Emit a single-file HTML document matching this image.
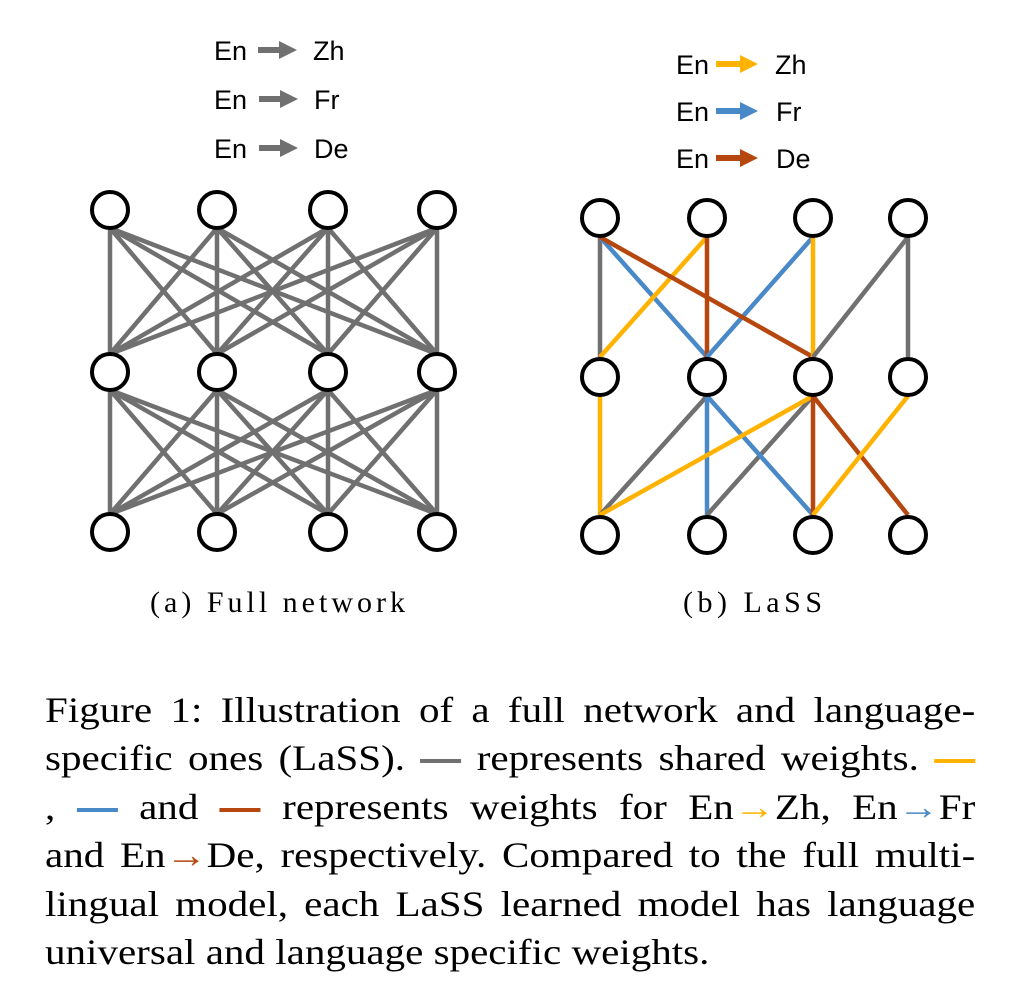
<!DOCTYPE html>
<html><head><meta charset="utf-8"><style>
body{margin:0;background:#fff;width:1018px;height:1002px;position:relative;overflow:hidden}
.cap{position:absolute;left:45px;width:816px;transform:scaleX(1.14);transform-origin:0 0;font-family:"Liberation Serif",serif;font-size:36px;line-height:40px;text-align:justify;text-align-last:justify;white-space:nowrap;color:#000}
.cap.last{text-align-last:left}
.d{display:inline-block;width:36px;height:4px;vertical-align:middle;margin-top:-2px}
.y{color:#FFB300}.b{color:#4A89C8}.r{color:#B5470F}
</style></head><body>
<svg width="1018" height="640" style="position:absolute;left:0;top:0" font-family="Liberation Sans, sans-serif">
<defs>
<marker id="ag" markerWidth="3" markerHeight="3" refX="1" refY="1.5" orient="auto" markerUnits="strokeWidth"><path d="M0,0L3,1.5L0,3z" fill="#707070"/></marker>
<marker id="ay" markerWidth="3" markerHeight="3" refX="1" refY="1.5" orient="auto" markerUnits="strokeWidth"><path d="M0,0L3,1.5L0,3z" fill="#FFB300"/></marker>
<marker id="ab" markerWidth="3" markerHeight="3" refX="1" refY="1.5" orient="auto" markerUnits="strokeWidth"><path d="M0,0L3,1.5L0,3z" fill="#4A89C8"/></marker>
<marker id="ar" markerWidth="3" markerHeight="3" refX="1" refY="1.5" orient="auto" markerUnits="strokeWidth"><path d="M0,0L3,1.5L0,3z" fill="#B5470F"/></marker>
</defs>
<g font-size="27" fill="#000">
<text x="214" y="60">En</text><text x="313" y="60">Zh</text>
<text x="214" y="109">En</text><text x="314" y="109">Fr</text>
<text x="214" y="158">En</text><text x="314" y="158">De</text>
<line x1="258" y1="50" x2="285" y2="50" stroke="#707070" stroke-width="6" marker-end="url(#ag)"/>
<line x1="259" y1="99" x2="286" y2="99" stroke="#707070" stroke-width="6" marker-end="url(#ag)"/>
<line x1="259" y1="148" x2="286" y2="148" stroke="#707070" stroke-width="6" marker-end="url(#ag)"/>
<text x="676" y="74">En</text><text x="775" y="74">Zh</text>
<text x="676" y="121">En</text><text x="776" y="121">Fr</text>
<text x="676" y="168">En</text><text x="776" y="168">De</text>
<line x1="716" y1="64" x2="746" y2="64" stroke="#FFB300" stroke-width="6" marker-end="url(#ay)"/>
<line x1="716" y1="111" x2="746" y2="111" stroke="#4A89C8" stroke-width="6" marker-end="url(#ab)"/>
<line x1="716" y1="158" x2="746" y2="158" stroke="#B5470F" stroke-width="6" marker-end="url(#ar)"/>
</g>
<g stroke="#707070" stroke-width="4.5">
<line x1="110" y1="228" x2="110" y2="354"/><line x1="110" y1="228" x2="217" y2="354"/><line x1="110" y1="228" x2="328" y2="354"/><line x1="110" y1="228" x2="437" y2="354"/>
<line x1="217" y1="228" x2="110" y2="354"/><line x1="217" y1="228" x2="217" y2="354"/><line x1="217" y1="228" x2="328" y2="354"/><line x1="217" y1="228" x2="437" y2="354"/>
<line x1="328" y1="228" x2="110" y2="354"/><line x1="328" y1="228" x2="217" y2="354"/><line x1="328" y1="228" x2="328" y2="354"/><line x1="328" y1="228" x2="437" y2="354"/>
<line x1="437" y1="228" x2="110" y2="354"/><line x1="437" y1="228" x2="217" y2="354"/><line x1="437" y1="228" x2="328" y2="354"/><line x1="437" y1="228" x2="437" y2="354"/>
<line x1="110" y1="390" x2="110" y2="514"/><line x1="110" y1="390" x2="217" y2="514"/><line x1="110" y1="390" x2="328" y2="514"/><line x1="110" y1="390" x2="437" y2="514"/>
<line x1="217" y1="390" x2="110" y2="514"/><line x1="217" y1="390" x2="217" y2="514"/><line x1="217" y1="390" x2="328" y2="514"/><line x1="217" y1="390" x2="437" y2="514"/>
<line x1="328" y1="390" x2="110" y2="514"/><line x1="328" y1="390" x2="217" y2="514"/><line x1="328" y1="390" x2="328" y2="514"/><line x1="328" y1="390" x2="437" y2="514"/>
<line x1="437" y1="390" x2="110" y2="514"/><line x1="437" y1="390" x2="217" y2="514"/><line x1="437" y1="390" x2="328" y2="514"/><line x1="437" y1="390" x2="437" y2="514"/>
</g>
<g fill="#fff" stroke="#000" stroke-width="4">
<circle cx="110" cy="210" r="18"/><circle cx="217" cy="210" r="18"/><circle cx="328" cy="210" r="18"/><circle cx="437" cy="210" r="18"/>
<circle cx="110" cy="372" r="18"/><circle cx="217" cy="372" r="18"/><circle cx="328" cy="372" r="18"/><circle cx="437" cy="372" r="18"/>
<circle cx="110" cy="532" r="18"/><circle cx="217" cy="532" r="18"/><circle cx="328" cy="532" r="18"/><circle cx="437" cy="532" r="18"/>
</g>
<g stroke-width="4.5">
<line x1="600" y1="237" x2="600" y2="357" stroke="#707070"/>
<line x1="600" y1="237" x2="707" y2="357" stroke="#4A89C8"/>
<line x1="707" y1="237" x2="600" y2="357" stroke="#FFB300"/>
<line x1="707" y1="237" x2="707" y2="357" stroke="#B5470F"/>
<line x1="813" y1="237" x2="707" y2="357" stroke="#4A89C8"/>
<line x1="600" y1="237" x2="813" y2="357" stroke="#B5470F"/>
<line x1="813" y1="237" x2="813" y2="357" stroke="#FFB300"/>
<line x1="908" y1="237" x2="813" y2="357" stroke="#707070"/>
<line x1="908" y1="237" x2="908" y2="357" stroke="#707070"/>
<line x1="600" y1="396" x2="600" y2="515" stroke="#FFB300"/>
<line x1="707" y1="396" x2="600" y2="515" stroke="#707070"/>
<line x1="707" y1="396" x2="707" y2="515" stroke="#4A89C8"/>
<line x1="813" y1="396" x2="707" y2="515" stroke="#707070"/>
<line x1="707" y1="396" x2="813" y2="515" stroke="#4A89C8"/>
<line x1="813" y1="396" x2="600" y2="515" stroke="#FFB300"/>
<line x1="813" y1="396" x2="813" y2="515" stroke="#B5470F"/>
<line x1="813" y1="396" x2="908" y2="515" stroke="#B5470F"/>
<line x1="908" y1="396" x2="813" y2="515" stroke="#FFB300"/>
</g>
<g fill="#fff" stroke="#000" stroke-width="4">
<circle cx="600" cy="218" r="18"/><circle cx="707" cy="218" r="18"/><circle cx="813" cy="218" r="18"/><circle cx="908" cy="218" r="18"/>
<circle cx="600" cy="377" r="18"/><circle cx="707" cy="377" r="18"/><circle cx="813" cy="377" r="18"/><circle cx="908" cy="377" r="18"/>
<circle cx="600" cy="535" r="18"/><circle cx="707" cy="535" r="18"/><circle cx="813" cy="535" r="18"/><circle cx="908" cy="535" r="18"/>
</g>
<g font-family="Liberation Serif, serif" font-size="30" fill="#000">
<text x="150" y="612" textLength="255" lengthAdjust="spacing">(a)  Full network</text>
<text x="683" y="612" textLength="139" lengthAdjust="spacing">(b)  LaSS</text>
</g>
</svg>
<div class="cap" style="top:690px">Figure 1: Illustration of a full network and language-</div>
<div class="cap" style="top:738px">specific ones (LaSS). <span class="d" style="background:#707070"></span> represents shared weights. <span class="d" style="background:#FFB300"></span></div>
<div class="cap" style="top:787px">, <span class="d" style="background:#4A89C8"></span> and <span class="d" style="background:#B5470F"></span> represents weights for En<span class="y">→</span>Zh, En<span class="b">→</span>Fr</div>
<div class="cap" style="top:835px">and En<span class="r">→</span>De, respectively. Compared to the full multi-</div>
<div class="cap" style="top:884px">lingual model, each LaSS learned model has language</div>
<div class="cap last" style="top:932px">universal and language specific weights.</div>
</body></html>
